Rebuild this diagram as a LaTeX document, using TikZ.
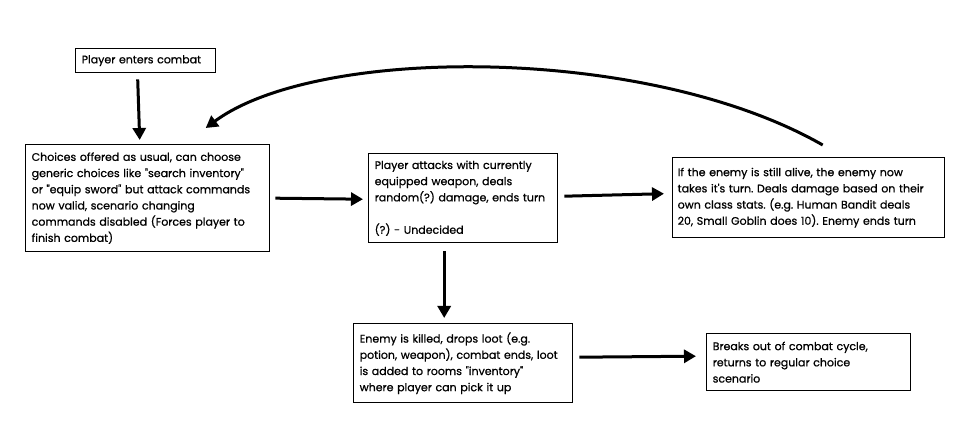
\documentclass[tikz,border=0pt]{standalone}
\usepackage{fontspec}
\newfontfamily\boxfont[FakeBold=0.8]{Poppins}
\usetikzlibrary{arrows.meta,calc}
\tikzset{
  box/.style={draw=black, line width=1.4pt, rectangle, anchor=north west, align=left,
    inner xsep=6pt, inner ysep=4pt, font=\boxfont\fontsize{11}{16.2}\selectfont\frenchspacing},
  arr/.style={line width=3pt, -{Triangle[length=12pt,width=13pt]}},
}
\begin{document}
\begin{tikzpicture}[x=1pt,y=-1pt]
\useasboundingbox (0,0) rectangle (969,435);
\node[box, minimum width=140pt, minimum height=24pt, text width=128pt] (a) at (75,48) {Player enters combat};
\node[box, minimum width=240pt, minimum height=107pt, text width=232pt] (b) at (25,144) {Choices offered as usual, can choose\\ generic choices like "search inventory"\\ or "equip sword" but attack commands\\ now valid, scenario changing\\ commands disabled (Forces player to\\ finish combat)};
\node[box, minimum width=189pt, minimum height=89pt, text width=177pt] (c) at (368,153) {Player attacks with currently\\ equipped weapon, deals\\ random(?) damage, ends turn\\ \mbox{}\\ (?) - Undecided};
\node[box, minimum width=269pt, minimum height=80pt, text width=262pt, inner xsep=5pt] (d) at (672,157) {If the enemy is still alive, the enemy now\\ takes it's turn. Deals damage based on their\\ own class stats. (e.g. Human Bandit deals\\ 20, Small Goblin does 10). Enemy ends turn};
\node[box, minimum width=219pt, minimum height=79pt, text width=207pt] (e) at (353,323) {Enemy is killed, drops loot (e.g.\\ potion, weapon), combat ends, loot\\ is added to rooms "inventory"\\ where player can pick it up};
\node[box, minimum width=204pt, minimum height=57pt, text width=192pt] (f) at (706,333) {Breaks out of combat cycle,\\ returns to regular choice\\ scenario};
\draw[arr] ([xshift=-8pt,yshift=-6pt]a.south) -- ([xshift=-8pt,yshift=4pt]b.north);
\draw[arr] ([xshift=5pt]b.east) -- ([xshift=-5pt,yshift=-1pt]c.west);
\draw[arr] ([xshift=6pt,yshift=2pt]c.east) -- ([xshift=-8pt,yshift=4pt]d.west);
\draw[arr] ([xshift=-19pt,yshift=-8pt]c.south) -- ([xshift=-19pt,yshift=5pt]e.north);
\draw[arr] ([xshift=6pt,yshift=6pt]e.east) -- ([xshift=-10pt,yshift=6pt]f.west);
\coordinate (dstart) at ($(d.north)+(14,-12)$);
\coordinate (bend) at ($(b.north)+(58,-16)$);
\draw[arr] (dstart) .. controls (648,45) and (318,45) .. (bend);
\end{tikzpicture}
\end{document}
